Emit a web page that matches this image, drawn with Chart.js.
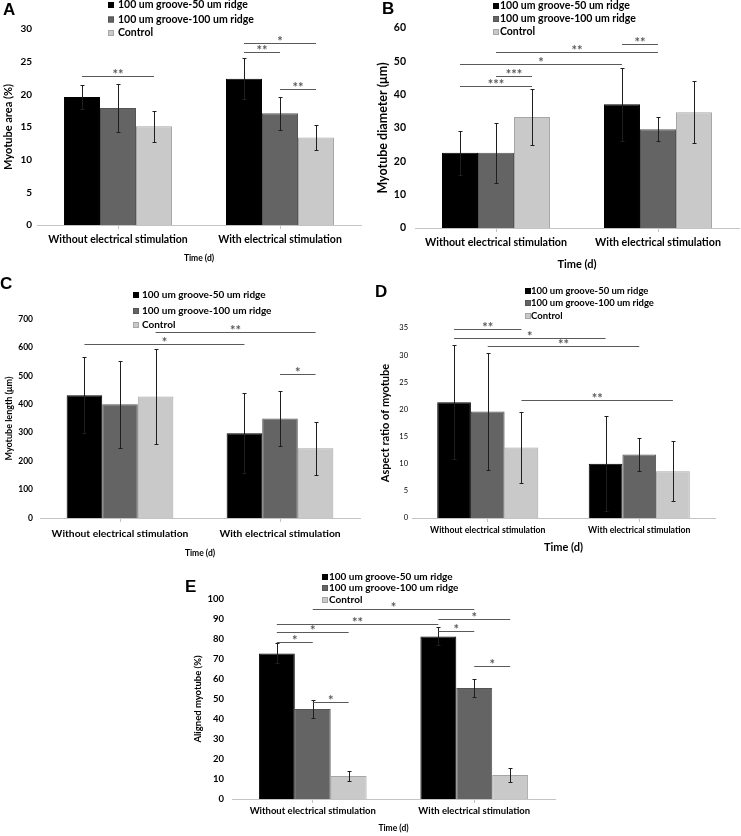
<!DOCTYPE html>
<html>
<head>
<meta charset="utf-8">
<script src="https://cdn.jsdelivr.net/npm/chart.js@4.4.0/dist/chart.umd.min.js"></script>
<style>
    html, body { margin: 0; padding: 0; background: #fff; }
    body { width: 741px; height: 836px; position: relative; overflow: hidden; }
    canvas { position: absolute; }
</style>
</head>
<body>
<canvas id="chartA" width="370" height="270" style="left:0;top:0"></canvas>
<canvas id="chartB" width="371" height="270" style="left:370px;top:0"></canvas>
<canvas id="chartC" width="370" height="290" style="left:0;top:270px"></canvas>
<canvas id="chartD" width="371" height="290" style="left:370px;top:270px"></canvas>
<canvas id="chartE" width="400" height="276" style="left:180px;top:560px"></canvas>
<script>
const categories = ['Without electrical stimulation', 'With electrical stimulation'];
const seriesNames = ['100 um groove-50 um ridge', '100 um groove-100 um ridge', 'Control'];

// A - myotube area (%), one row per series
const areaMeans = [[19.6, 22.4], [17.9, 17.1], [15.1, 13.4]];
const areaErrors = [[1.8, 3.1], [3.7, 2.5], [2.4, 1.9]];
const areaTicks = [0, 5, 10, 15, 20, 25, 30];
// [category1, series1, category2, series2, height, label]
const areaSig = [[0, 0, 0, 2, 22.85, '**'], [1, 0, 1, 2, 27.8, '*'], [1, 0, 1, 1, 26.5, '**'], [1, 1, 1, 2, 20.8, '**']];

// B - myotube diameter (um)
const diamMeans = [[22.6, 37.1], [22.6, 29.6], [33.3, 34.7]];
const diamErrors = [[6.6, 10.9], [9.0, 3.6], [8.4, 9.3]];
const diamTicks = [0, 10, 20, 30, 40, 50, 60];
const diamSig = [[0, 0, 0, 2, 42.7, '***'], [0, 1, 0, 2, 45.5, '***'], [0, 0, 1, 0, 49.2, '*'], [0, 1, 1, 1, 52.7, '**'], [1, 0, 1, 1, 55.3, '**']];

// C - myotube length (um)
const lengthMeans = [[432, 298], [400, 350], [427, 245]];
const lengthErrors = [[134, 140], [154, 95], [167, 93]];
const lengthTicks = [0, 100, 200, 300, 400, 500, 600, 700];
const lengthSig = [[0, 0, 1, 0, 611, '*'], [0, 2, 1, 2, 653, '**'], [1, 1, 1, 2, 505, '*']];

// D - aspect ratio
const ratioMeans = [[21.3, 10.0], [19.6, 11.7], [13.0, 8.6]];
const ratioErrors = [[10.5, 8.8], [10.8, 3.0], [6.6, 5.5]];
const ratioTicks = [0, 5, 10, 15, 20, 25, 30, 35];
const ratioSig = [[0, 0, 0, 2, 34.8, '**'], [0, 0, 1, 0, 33.1, '*'], [0, 1, 1, 1, 31.6, '**'], [0, 2, 1, 2, 21.8, '**']];

// E - aligned myotube (%)
const alignMeans = [[72.8, 81.3], [45.0, 55.5], [11.5, 12.0]];
const alignErrors = [[5.0, 4.5], [4.3, 4.6], [2.6, 3.4]];
const alignTicks = [0, 10, 20, 30, 40, 50, 60, 70, 80, 90, 100];
const alignSig = [[0, 0, 0, 1, 78.5, '*'], [0, 0, 0, 2, 83.3, '*'], [0, 0, 1, 0, 87.7, '**'], [0, 1, 1, 1, 95, '*'],
    [1, 0, 1, 1, 84.2, '*'], [1, 0, 1, 2, 90, '*'], [1, 1, 1, 2, 66.7, '*'], [0, 1, 0, 2, 48.5, '*']];

const fills = ['#000000', '#646464', '#c9c9c9'];
const edges = ['#000000', '#555555', '#a6a6a6'];
const FONT = 'Lato, sans-serif';

// error bars, significance brackets, legend and panel letter
const extras = {
    id: 'extras',
    afterDatasetsDraw(chart, args, opts) {
        const ctx = chart.ctx;
        const y = chart.scales.y;
        ctx.save();
        ctx.strokeStyle = '#1e1e1e';
        ctx.lineWidth = 1;
        chart.data.datasets.forEach((ds, i) => {
            chart.getDatasetMeta(i).data.forEach((bar, j) => {
                const x = Math.round(bar.x) + 0.5;
                const top = Math.round(y.getPixelForValue(ds.data[j] + ds.errors[j])) + 0.5;
                const bot = Math.round(y.getPixelForValue(ds.data[j] - ds.errors[j])) + 0.5;
                ctx.beginPath();
                ctx.moveTo(x, top); ctx.lineTo(x, bot);
                ctx.moveTo(x - 2, top); ctx.lineTo(x + 2, top);
                ctx.moveTo(x - 2, bot); ctx.lineTo(x + 2, bot);
                ctx.stroke();
            });
        });

        // brackets
        ctx.strokeStyle = '#5a5a5a';
        ctx.fillStyle = '#5a5a5a';
        ctx.font = 'bold 13px ' + FONT;
        ctx.textAlign = 'center';
        ctx.textBaseline = 'alphabetic';
        opts.sig.forEach(([c1, s1, c2, s2, v, label]) => {
            const x1 = chart.getDatasetMeta(s1).data[c1].x;
            const x2 = chart.getDatasetMeta(s2).data[c2].x;
            const ly = Math.round(y.getPixelForValue(v)) + 0.5;
            ctx.beginPath();
            ctx.moveTo(x1, ly); ctx.lineTo(x2, ly);
            ctx.stroke();
            ctx.fillText(label, (x1 + x2) / 2, ly + 2);
        });

        // legend
        const lg = opts.legend;
        ctx.font = 'bold ' + lg.size + 'px ' + FONT;
        ctx.textAlign = 'left';
        ctx.textBaseline = 'middle';
        chart.data.datasets.forEach((ds, i) => {
            const ry = lg.rows[i];
            ctx.fillStyle = ds.backgroundColor;
            ctx.fillRect(lg.x, ry - 3, 6, 6);
            ctx.strokeStyle = ds.borderColor;
            ctx.strokeRect(lg.x + 0.5, ry - 2.5, 5, 5);
            ctx.fillStyle = '#000';
            ctx.fillText(ds.label, lg.textX, ry);
        });

        // panel letter
        ctx.font = 'bold 17px "Liberation Sans", Arial, sans-serif';
        ctx.textBaseline = 'top';
        ctx.fillText(opts.letter, opts.letterX, opts.letterY);
        ctx.restore();
    }
};

function makePanel(cfg) {
    const canvas = document.getElementById(cfg.id);
    const [cx, cy] = cfg.origin;
    const w = canvas.width, h = canvas.height;
    const [aLeft, aTop, aRight, aBottom] = cfg.area.map((v, k) => v - (k % 2 === 0 ? cx : cy));
    const ticks = cfg.ticks;

    new Chart(canvas, {
        type: 'bar',
        data: {
            labels: categories,
            datasets: seriesNames.map((name, i) => ({
                label: name,
                data: cfg.means[i],
                errors: cfg.errors[i],
                backgroundColor: fills[i],
                borderColor: edges[i],
                borderWidth: 1,
                categoryPercentage: 0.667,
                barPercentage: 1
            }))
        },
        options: {
            responsive: false,
            animation: false,
            layout: { padding: { top: aTop, right: w - aRight, left: 0, bottom: 0 } },
            plugins: {
                legend: { display: false },
                tooltip: { enabled: false },
                extras: {
                    sig: cfg.sig,
                    legend: { x: cfg.legend.x - cx, textX: cfg.legend.textX - cx, rows: cfg.legend.rows.map(r => r - cy), size: cfg.legend.size },
                    letter: cfg.letter,
                    letterX: cfg.letterPos[0] - cx,
                    letterY: cfg.letterPos[1] - cy
                }
            },
            scales: {
                x: {
                    afterFit: s => { s.height = h - aBottom; },
                    grid: { display: true, drawOnChartArea: false, drawTicks: true, tickLength: 4, offset: false, color: '#c4c4c4' },
                    border: { display: true, color: '#c4c4c4' },
                    ticks: {
                        color: '#000',
                        font: { family: FONT, size: cfg.xFont, weight: 'bold' },
                        padding: cfg.xLabelY - cy - aBottom - 4 - cfg.xFont * 0.6,
                        maxRotation: 0, autoSkip: false
                    },
                    title: {
                        display: true,
                        text: 'Time (d)',
                        color: '#000',
                        font: { family: FONT, size: cfg.timeFont, weight: 'bold' },
                        padding: { top: 0, bottom: h - (cfg.timeY - cy) - cfg.timeFont * 0.6 }
                    }
                },
                y: {
                    min: ticks[0],
                    max: ticks[ticks.length - 1],
                    afterFit: s => { s.width = aLeft; },
                    afterBuildTicks: s => { s.ticks = ticks.map(v => ({ value: v })); },
                    grid: { display: false, drawTicks: false },
                    border: { display: false },
                    ticks: {
                        color: '#000',
                        font: { family: FONT, size: cfg.yFont, weight: cfg.yWeight },
                        padding: cfg.area[0] - cfg.yTickRight
                    },
                    title: {
                        display: true,
                        text: cfg.yTitle,
                        color: '#000',
                        font: { family: FONT, size: cfg.yTitleFont, weight: 'bold' },
                        padding: { top: cfg.yTitleX - cx - cfg.yTitleFont * 0.6, bottom: 0 }
                    }
                }
            }
        },
        plugins: [extras]
    });
}

makePanel({
    id: 'chartA', origin: [0, 0], area: [37, 29, 361, 225],
    means: areaMeans, errors: areaErrors, ticks: areaTicks, sig: areaSig,
    yTitle: 'Myotube area (%)', yTitleX: 8, yTitleFont: 11, yFont: 10, yWeight: 'bold', yTickRight: 32,
    xLabelY: 240, xFont: 10.5, timeY: 258, timeFont: 8.5,
    legend: { x: 108, textX: 118, rows: [5, 19.5, 33], size: 10.5 },
    letter: 'A', letterPos: [3, 2]
});

makePanel({
    id: 'chartB', origin: [370, 0], area: [415, 28, 739, 228],
    means: diamMeans, errors: diamErrors, ticks: diamTicks, sig: diamSig,
    yTitle: 'Myotube diameter (\u03bcm)', yTitleX: 383, yTitleFont: 12.5, yFont: 10.5, yWeight: 'bold', yTickRight: 406,
    xLabelY: 243, xFont: 10.7, timeY: 264, timeFont: 11,
    legend: { x: 493, textX: 500, rows: [6, 19, 32], size: 10.5 },
    letter: 'B', letterPos: [382, 1]
});

makePanel({
    id: 'chartC', origin: [0, 270], area: [40, 319, 360, 518],
    means: lengthMeans, errors: lengthErrors, ticks: lengthTicks, sig: lengthSig,
    yTitle: 'Myotube length (\u03bcm)', yTitleX: 9, yTitleFont: 9, yFont: 8.5, yWeight: 'bold', yTickRight: 33,
    xLabelY: 534, xFont: 10.3, timeY: 553, timeFont: 8.5,
    legend: { x: 133, textX: 142, rows: [295, 311, 325], size: 10 },
    letter: 'C', letterPos: [0, 276]
});

makePanel({
    id: 'chartD', origin: [370, 270], area: [412, 328, 715, 518],
    means: ratioMeans, errors: ratioErrors, ticks: ratioTicks, sig: ratioSig,
    yTitle: 'Aspect ratio of myotube', yTitleX: 385, yTitleFont: 11, yFont: 7.5, yWeight: 'normal', yTickRight: 408,
    xLabelY: 530, xFont: 8.7, timeY: 547, timeFont: 11,
    legend: { x: 525, textX: 531, rows: [291, 303, 316], size: 9.5 },
    letter: 'D', letterPos: [375, 284]
});

makePanel({
    id: 'chartE', origin: [180, 560], area: [232, 599, 555, 799],
    means: alignMeans, errors: alignErrors, ticks: alignTicks, sig: alignSig,
    yTitle: 'Aligned myotube (%)', yTitleX: 198, yTitleFont: 9.5, yFont: 9.5, yWeight: 'bold', yTickRight: 224,
    xLabelY: 811, xFont: 9.5, timeY: 828, timeFont: 8.5,
    legend: { x: 322, textX: 329, rows: [577, 588, 600], size: 10 },
    letter: 'E', letterPos: [185, 579]
});
</script>
</body>
</html>
